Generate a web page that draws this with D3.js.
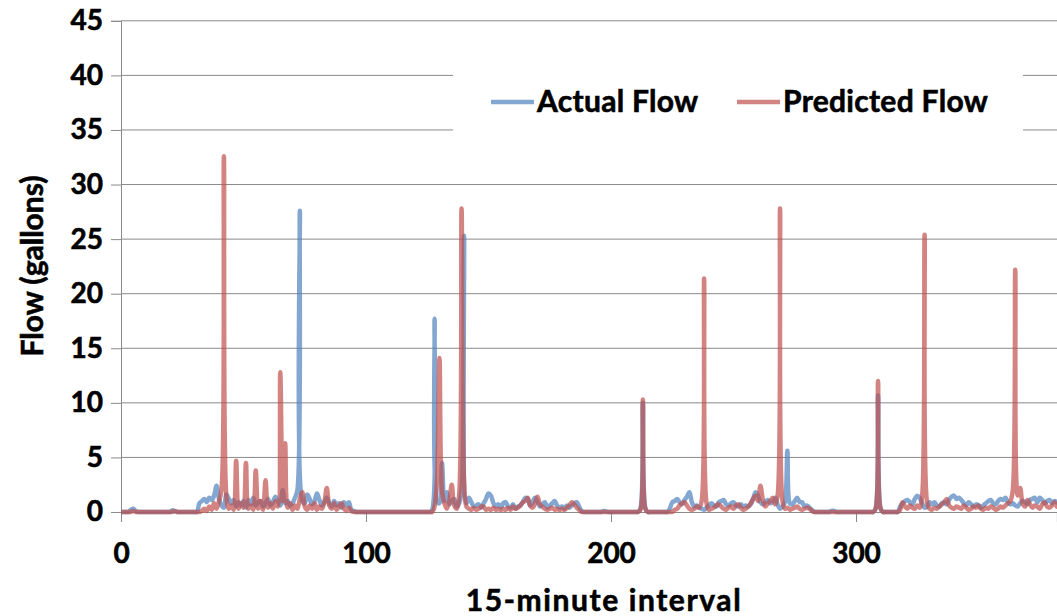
<!DOCTYPE html>
<html>
<head>
<meta charset="utf-8">
<script src="https://cdn.jsdelivr.net/npm/d3@7"></script>
<style>
  body { margin: 0; background: #fff; }
  svg { display: block; font-family: Lato, "Open Sans", sans-serif; font-weight: 700; }
  svg text { stroke: #000; stroke-width: 0.6px; }
</style>
</head>
<body>
<svg id="chart" width="1057" height="616"></svg>
<script>
// flow per 15-minute interval, index 0..383
const actualFlow = [
  0,0,0,0,0.2,0.3,0.1,0,0,0,0,0,0,0,0,0,0,0,0,0,
  0,0.15,0.05,0,0,0,0,0,0,0,0,0,0.8,1.0,1.2,0.9,1.3,1.1,1.5,2.4,
  1.2,0.6,0.4,1.6,1.2,0.8,1.1,0.5,0.9,0.6,1.0,0.4,1.1,0.7,1.3,0.6,0.9,1.0,0.5,0.8,
  1.2,0.6,0.9,1.4,1.0,0.6,2.0,0.8,1.0,0.6,0.8,1.3,2.0,27.6,1.0,0.8,1.6,1.2,0.7,1.0,
  1.7,1.1,0.6,0.9,1.3,0.8,0.5,1.0,0.6,0.8,0.4,0.9,0.6,0.9,0.2,0.1,0,0,0,0,
  0,0,0,0,0,0,0,0,0,0,0,0,0,0,0,0,0,0,0,0,
  0,0,0,0,0,0,0,0.2,17.7,1.0,0.8,4.5,1.0,1.8,0.7,1.0,1.2,0.5,0.8,2.0,
  25.3,0.8,1.3,0.9,0.5,0.6,0.7,0.4,0.8,1.2,1.7,1.5,0.8,0.5,0.7,0.4,0.8,0.9,0.5,0.4,
  0.7,0.3,0.5,0.6,0.9,1.3,1.2,0.6,0.9,1.3,0.9,0.5,0.7,0.9,0.4,0.6,0.8,1.0,0.6,0.4,
  0.5,0.3,0.6,0.4,0.6,0.8,0.9,0.5,0.1,0,0,0,0,0,0,0,0,0.1,0.05,0,
  0,0,0,0,0,0,0,0,0,0,0,0,0.3,10.0,0.4,0,0,0,0,0,
  0,0,0,0,0.3,0.9,1.0,1.2,0.9,0.7,1.1,1.4,1.8,0.9,0.5,0.6,0.4,0.3,0.2,0.4,
  0.6,0.8,0.6,0.5,0.9,1.0,1.1,0.7,0.6,0.8,0.9,0.6,0.5,0.7,0.5,0.6,0.5,0.7,1.2,1.8,
  1.5,0.9,0.7,0.9,1.1,0.8,0.9,1.3,0.7,0.3,0.5,0.9,5.6,0.8,0.7,1.0,1.3,0.9,0.9,0.5,
  0.6,0.4,0.2,0,0,0,0,0,0,0,0.1,0.1,0,0,0,0,0,0,0,0,
  0,0,0,0,0,0,0,0,0.3,10.7,0.4,0,0,0,0,0,0,0,0.5,0.8,
  1.0,1.1,0.9,0.7,1.2,1.5,1.3,0.8,0.4,0.5,0.9,0.7,0.9,0.6,0.5,0.8,0.9,0.7,1.1,1.4,
  1.5,1.2,1.3,1.1,0.8,0.6,0.9,0.7,0.5,0.7,0.6,0.4,0.6,0.8,1.0,1.1,0.8,0.7,1.0,1.2,
  1.1,1.3,0.9,0.7,0.8,0.6,0.5,0.8,1.0,0.9,0.7,1.1,1.2,1.3,0.9,1.3,1.1,0.8,1.0,1.1,
  0.8,1.0,0.9,0.7
];

const predictedFlow = [
  0,0,0,0,0,0.1,0,0,0,0,0,0,0,0,0,0,0,0,0,0,
  0,0,0.1,0,0,0,0,0,0,0,0,0,0,0.1,0.3,0.1,0.5,0.2,0.8,0.3,
  1.0,2.0,32.6,1.5,0.3,0.6,0.2,4.7,0.3,0.8,0.4,4.5,0.3,0.6,0.2,3.8,0.3,1.0,0.2,2.9,
  0.4,0.8,0.3,1.0,0.5,12.8,1.0,6.3,0.4,0.8,0.2,0.6,0.3,1.2,1.8,0.5,0.2,0.6,0.3,0.8,
  0.2,0.5,0.3,0.9,2.2,0.6,0.3,0.8,0.2,0.5,0.8,0.3,0.1,0.4,0.1,0,0,0,0,0,
  0,0,0,0,0,0,0,0,0,0,0,0,0,0,0,0,0,0,0,0,
  0,0,0,0,0,0,0,0,0.5,3.0,14.1,2.0,0.8,0.3,1.0,2.5,0.6,0.3,1.5,27.8,
  3.0,0.5,0.3,0.2,0.4,0.2,0.3,0.5,0.5,0.2,0.3,0.2,0.4,0.2,0.3,0.2,0.3,0.2,0.4,0.2,
  0.5,0.3,0.4,0.6,0.9,1.0,1.3,0.6,0.4,0.8,1.4,0.7,0.5,0.3,0.2,0.3,0.4,0.2,0.3,0.2,
  0.3,0.2,0.4,0.6,0.9,0.7,0.4,0.2,0,0,0,0,0,0,0,0,0,0,0,0,
  0,0,0,0,0,0,0,0,0,0,0,0,0.2,10.3,0.3,0,0,0,0,0,
  0,0,0,0,0,0,0.2,0.3,0.6,0.8,0.9,0.6,0.3,0.2,0.3,0.5,0.4,1.0,21.4,0.8,
  0.2,0.3,0.4,0.6,0.7,0.5,0.3,0.2,0.4,0.5,0.3,0.6,0.7,0.4,0.2,0.3,0.5,0.8,1.2,1.5,
  1.0,2.4,1.1,0.5,0.8,1.0,1.3,0.7,1.5,27.8,1.0,0.3,0.4,0.2,0.3,0.4,0.5,0.3,0.2,0.3,
  0.4,0.3,0.1,0,0,0,0,0,0,0,0,0,0,0,0,0,0,0,0,0,
  0,0,0,0,0,0,0,0,0.3,12.0,0.3,0,0,0,0,0,0,0,0.2,0.9,
  0.5,0.3,0.6,0.4,0.3,0.6,0.4,1.5,25.4,0.9,0.3,0.2,0.4,0.3,0.5,0.7,0.9,1.2,0.6,0.4,
  0.3,0.5,0.4,0.3,0.6,0.4,0.2,0.3,0.5,0.4,0.6,0.3,0.2,0.4,0.3,0.5,0.4,0.2,0.3,0.5,
  0.4,0.6,0.8,1.0,2.0,22.2,1.5,2.2,0.8,0.5,1.1,0.7,0.4,0.6,0.5,0.3,0.7,0.9,0.5,0.4,
  0.6,0.9,0.5,0.4
];

const xTicks = [0, 100, 200, 300];
const yTicks = [0, 5, 10, 15, 20, 25, 30, 35, 40, 45];
const seriesNames = ["Actual Flow", "Predicted Flow"];
const seriesColors = ["#4F81BD", "#C0504D"];

const width = 1057, height = 616;
const margin = { top: 20.8, right: 0.1, bottom: 104, left: 121 };

const svg = d3.select("#chart");

const x = d3.scaleLinear().domain([0, 382]).range([margin.left, width - margin.right]);
const y = d3.scaleLinear().domain([0, 45]).range([height - margin.bottom, margin.top]);

// gridlines
svg.append("g")
  .selectAll("line")
  .data(yTicks.filter(d => d > 0))
  .join("line")
  .attr("x1", margin.left).attr("x2", width)
  .attr("y1", d => y(d)).attr("y2", d => y(d))
  .attr("stroke", "#8a8a8a").attr("stroke-width", 1);

// y axis
const yAxis = svg.append("g")
  .attr("transform", `translate(${margin.left},0)`)
  .call(d3.axisLeft(y).tickValues(yTicks).tickSize(10).tickPadding(8));
yAxis.select(".domain").attr("stroke", "#8a8a8a");
yAxis.selectAll(".tick line").attr("stroke", "#8a8a8a");
yAxis.selectAll("text").attr("font-size", 28).attr("font-family", "Lato").attr("font-weight", 700).attr("fill", "#000");

// x axis
const xAxis = svg.append("g")
  .attr("transform", `translate(0,${y(0)})`)
  .call(d3.axisBottom(x).tickValues(xTicks).tickSize(10).tickPadding(21));
xAxis.select(".domain").attr("stroke", "#8a8a8a");
xAxis.selectAll(".tick line").attr("stroke", "#8a8a8a");
xAxis.selectAll("text").attr("font-size", 28).attr("font-family", "Lato").attr("font-weight", 700).attr("fill", "#000");

// lines
svg.append("clipPath").attr("id", "plotClip")
  .append("rect")
  .attr("x", margin.left).attr("y", 0)
  .attr("width", width - margin.left).attr("height", y(0) + 3);

const line = d3.line()
  .x((d, i) => x(i))
  .y(d => y(d))
  .curve(d3.curveCatmullRom.alpha(0.5));

const lines = svg.append("g").attr("clip-path", "url(#plotClip)");
[actualFlow, predictedFlow].forEach((s, k) => {
  lines.append("path")
    .datum(s)
    .attr("fill", "none")
    .attr("stroke", seriesColors[k])
    .attr("stroke-opacity", 0.7)
    .attr("stroke-width", 4.5)
    .attr("stroke-linejoin", "round")
    .attr("d", line);
});

// legend
svg.append("rect")
  .attr("x", 453).attr("y", 68).attr("width", 570).attr("height", 68)
  .attr("fill", "#fff");
const legendX = [491, 737];
seriesNames.forEach((name, k) => {
  svg.append("line")
    .attr("x1", legendX[k]).attr("x2", legendX[k] + 43)
    .attr("y1", 102).attr("y2", 102)
    .attr("stroke", seriesColors[k]).attr("stroke-opacity", 0.7).attr("stroke-width", 4.5);
  svg.append("text")
    .attr("x", legendX[k] + 46).attr("y", 112)
    .attr("font-size", 30)
    .attr("letter-spacing", 0.3)
    .text(name);
});

// axis titles
svg.append("text")
  .attr("x", 604).attr("y", 611)
  .attr("text-anchor", "middle")
  .attr("font-size", 30)
  .attr("letter-spacing", 1.6)
  .text("15-minute interval");

svg.append("text")
  .attr("transform", "translate(43,266) rotate(-90)")
  .attr("text-anchor", "middle")
  .attr("font-size", 30)
  .text("Flow (gallons)");
</script>
</body>
</html>
